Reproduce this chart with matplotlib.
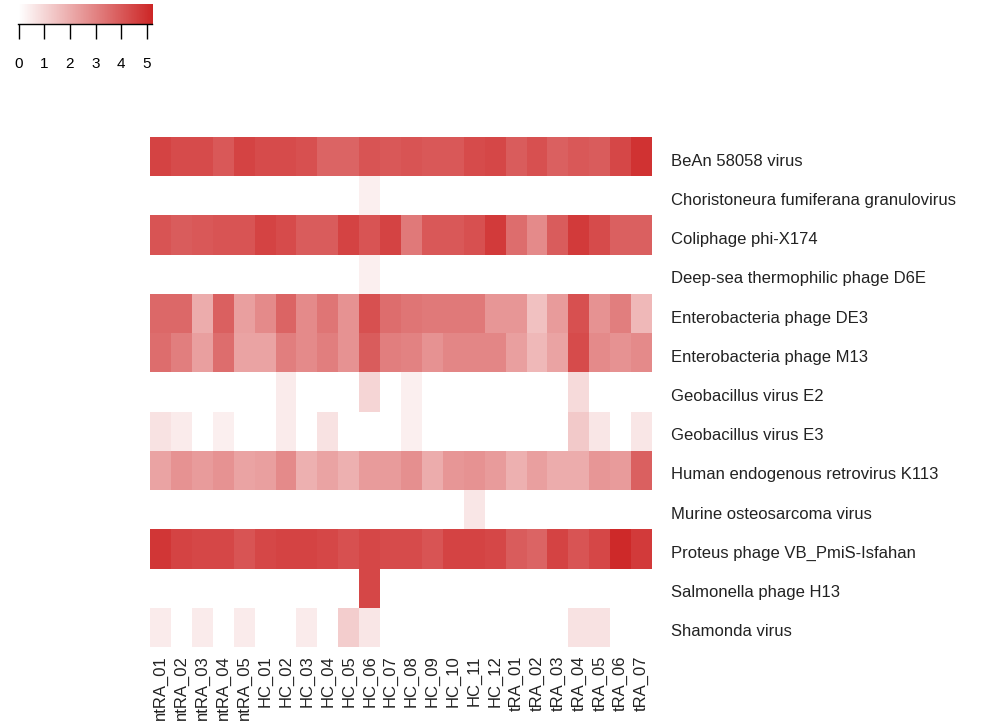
import numpy as np
import matplotlib.pyplot as plt
import matplotlib.transforms as mtransforms
from matplotlib.colors import LinearSegmentedColormap

plt.rcParams['font.family'] = ['Liberation Sans', 'DejaVu Sans']

samples = ['ntRA_01', 'ntRA_02', 'ntRA_03', 'ntRA_04', 'ntRA_05',
           'HC_01', 'HC_02', 'HC_03', 'HC_04', 'HC_05', 'HC_06', 'HC_07',
           'HC_08', 'HC_09', 'HC_10', 'HC_11', 'HC_12',
           'tRA_01', 'tRA_02', 'tRA_03', 'tRA_04', 'tRA_05', 'tRA_06', 'tRA_07']

viruses = ['BeAn 58058 virus',
           'Choristoneura fumiferana granulovirus',
           'Coliphage phi-X174',
           'Deep-sea thermophilic phage D6E',
           'Enterobacteria phage DE3',
           'Enterobacteria phage M13',
           'Geobacillus virus E2',
           'Geobacillus virus E3',
           'Human endogenous retrovirus K113',
           'Murine osteosarcoma virus',
           'Proteus phage VB_PmiS-Isfahan',
           'Salmonella phage H13',
           'Shamonda virus']

# log abundance per virus (rows) and sample (columns)
bean = [4.5, 4.3, 4.3, 4.0, 4.5, 4.3, 4.3, 4.2, 3.7, 3.7, 4.1, 4.0,
        4.1, 4.0, 4.0, 4.3, 4.4, 3.9, 4.2, 3.8, 4.0, 3.9, 4.4, 4.9]
chori = [0, 0, 0, 0, 0, 0, 0, 0, 0, 0, 0.4, 0,
         0, 0, 0, 0, 0, 0, 0, 0, 0, 0, 0, 0]
phix = [4.1, 3.9, 4.0, 4.1, 4.1, 4.5, 4.3, 3.9, 3.9, 4.5, 4.1, 4.5,
        3.2, 4.0, 4.0, 4.2, 4.7, 3.5, 2.8, 3.9, 4.7, 4.3, 3.8, 3.8]
d6e = [0, 0, 0, 0, 0, 0, 0, 0, 0, 0, 0.4, 0,
       0, 0, 0, 0, 0, 0, 0, 0, 0, 0, 0, 0]
de3 = [3.6, 3.6, 2.0, 3.8, 2.3, 2.8, 3.7, 2.8, 3.3, 2.6, 4.2, 3.5,
       3.3, 3.2, 3.2, 3.2, 2.5, 2.5, 1.5, 2.4, 4.2, 2.6, 3.1, 1.7]
m13 = [3.5, 3.1, 2.3, 3.5, 2.2, 2.2, 3.1, 2.8, 3.1, 2.6, 3.9, 3.1,
       3.0, 2.6, 2.9, 2.9, 2.9, 2.3, 1.7, 2.2, 4.3, 2.8, 2.6, 2.8]
geo_e2 = [0, 0, 0, 0, 0, 0, 0.5, 0, 0, 0, 1.0, 0,
          0.4, 0, 0, 0, 0, 0, 0, 0, 0.9, 0, 0, 0]
geo_e3 = [0.7, 0.5, 0, 0.4, 0, 0, 0.5, 0, 0.7, 0, 0, 0,
          0.4, 0, 0, 0, 0, 0, 0, 0, 1.3, 0.6, 0, 0.6]
herv = [2.2, 2.6, 2.4, 2.6, 2.2, 2.3, 2.8, 1.9, 2.2, 1.9, 2.4, 2.4,
        2.7, 2.0, 2.5, 2.6, 2.4, 1.9, 2.3, 2.0, 2.0, 2.5, 2.4, 3.8]
murine = [0, 0, 0, 0, 0, 0, 0, 0, 0, 0, 0, 0,
          0, 0, 0, 0.6, 0, 0, 0, 0, 0, 0, 0, 0]
proteus = [4.8, 4.5, 4.4, 4.4, 4.1, 4.4, 4.5, 4.5, 4.4, 4.2, 4.4, 4.3,
           4.3, 4.1, 4.5, 4.5, 4.4, 3.9, 3.7, 4.5, 4.1, 4.4, 5.1, 4.7]
salm = [0, 0, 0, 0, 0, 0, 0, 0, 0, 0, 4.4, 0,
        0, 0, 0, 0, 0, 0, 0, 0, 0, 0, 0, 0]
shamonda = [0.5, 0, 0.5, 0, 0.5, 0, 0, 0.5, 0, 1.2, 0.6, 0,
            0, 0, 0, 0, 0, 0, 0, 0, 0.7, 0.7, 0, 0]

data = np.array([bean, chori, phix, d6e, de3, m13, geo_e2, geo_e3,
                 herv, murine, proteus, salm, shamonda])

vmax = 5.2
cmap = LinearSegmentedColormap.from_list('wr', ['#FFFFFF', '#CD2626'])

W, H = 982, 728
fig = plt.figure(figsize=(W / 100, H / 100), dpi=100)

# main heatmap
ax = fig.add_axes([150 / W, 1 - 647 / H, (652 - 150) / W, (647 - 137) / H])
ax.pcolormesh(data, cmap=cmap, vmin=0, vmax=vmax)
ax.set_xlim(0, data.shape[1])
ax.set_ylim(data.shape[0], 0)
for s in ax.spines.values():
    s.set_visible(False)
ax.set_xticks(np.arange(len(samples)) + 0.5)
ax.set_xticklabels(samples, rotation=90, fontsize=12, color='#222222')
ax.set_yticks(np.arange(len(viruses)) + 0.5)
ax.set_yticklabels(viruses, fontsize=12, color='#222222')
ax.yaxis.tick_right()
ax.tick_params(axis='both', length=0)
ax.tick_params(axis='y', pad=14)
ax.tick_params(axis='x', pad=6)
shift = mtransforms.ScaledTranslation(0, -3 / 100, fig.dpi_scale_trans)
for t in ax.get_yticklabels():
    t.set_verticalalignment('center_baseline')
    t.set_transform(t.get_transform() + shift)

# colour key
cax = fig.add_axes([18 / W, 1 - 24 / H, (152 - 18) / W, 20 / H])
grad = np.linspace(0, vmax, 256).reshape(1, -1)
cax.imshow(grad, cmap=cmap, vmin=0, vmax=vmax, aspect='auto',
           extent=[0, vmax, 0, 1])
cax.set_xlim(-0.02, vmax)
cax.set_yticks([])
cax.set_xticks(range(6))
cax.tick_params(axis='x', length=11, width=1, pad=13, labelsize=11)
for k in ['top', 'left', 'right']:
    cax.spines[k].set_visible(False)
cax.spines['bottom'].set_linewidth(1)

fig.savefig('out.png', dpi=100)
